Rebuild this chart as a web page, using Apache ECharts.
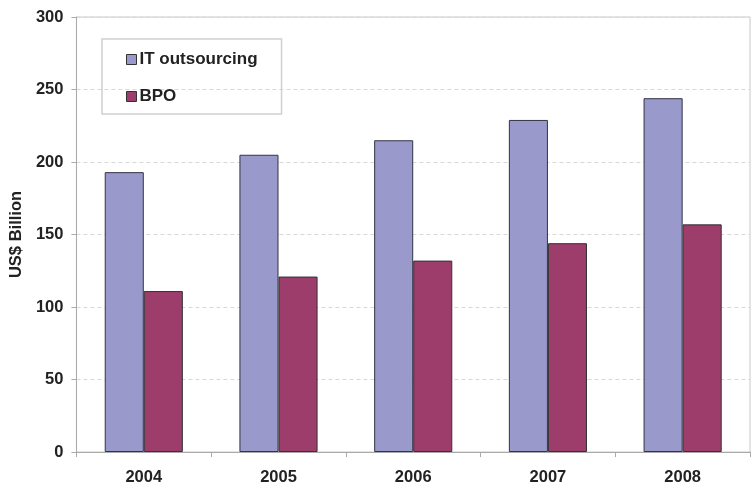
<!DOCTYPE html>
<html>
<head>
<meta charset="utf-8">
<script src="https://cdn.jsdelivr.net/npm/echarts@6/dist/echarts.min.js"></script>
<style>html,body{margin:0;padding:0;background:#fff}#c{width:753px;height:486px}</style>
</head>
<body>
<div id="c"></div>
<script>
const years = ['2004', '2005', '2006', '2007', '2008'];
const itOutsourcing = [193, 205, 215, 229, 244];
const bpo = [111, 121, 132, 144, 157];
const yTicks = [0, 50, 100, 150, 200, 250, 300];

const chart = echarts.init(document.getElementById('c'));
const font = 'Liberation Sans, Arial, sans-serif';
chart.setOption({
  animation: false,
  backgroundColor: '#fff',
  grid: { left: 75, right: 3, top: 17, bottom: 33, show: true, borderColor: '#c8c8c8', borderWidth: 1 },
  legend: {
    orient: 'vertical', left: 102, top: 39,
    data: ['IT outsourcing', 'BPO'],
    itemWidth: 10, itemHeight: 10, itemGap: 20,
    padding: [12, 24, 9, 24],
    borderColor: '#d0d0d0', borderWidth: 1.5,
    icon: 'rect',
    textStyle: { fontFamily: font, fontWeight: 'bold', fontSize: 17, color: '#222', padding: [0,0,0,-2] },
    itemStyle: { borderColor: '#333', borderWidth: 1 }
  },
  xAxis: {
    type: 'category', data: years,
    axisLine: { lineStyle: { color: '#aaa' } },
    axisTick: { show: true, alignWithLabel: false, lineStyle: { color: '#aaa' }, length: 5 },
    axisLabel: { fontFamily: font, fontWeight: 'bold', fontSize: 16.5, color: '#222', margin: 17 }
  },
  yAxis: {
    type: 'value', min: 0, max: 300, interval: 50,
    name: 'US$ Billion', nameLocation: 'middle', nameGap: 45,
    nameTextStyle: { fontFamily: font, fontWeight: 'bold', fontSize: 16.5, color: '#222' },
    axisLine: { show: true, lineStyle: { color: '#aaa' } },
    axisTick: { show: true, length: 5, lineStyle: { color: '#aaa' } },
    axisLabel: { fontFamily: font, fontWeight: 'bold', fontSize: 16.5, color: '#222', margin: 13,
      formatter: v => yTicks.includes(v) ? String(v) : '' },
    splitLine: { show: true, lineStyle: { color: '#d8d8d8', type: [4, 3] } }
  },
  series: [
    { name: 'IT outsourcing', type: 'bar', data: itOutsourcing, barGap: '0%', barCategoryGap: '42%',
      itemStyle: { color: '#9999cc', borderColor: '#333344', borderWidth: 1 } },
    { name: 'BPO', type: 'bar', data: bpo,
      itemStyle: { color: '#9c3d6b', borderColor: '#333333', borderWidth: 1 } }
  ]
});
</script>
</body>
</html>
